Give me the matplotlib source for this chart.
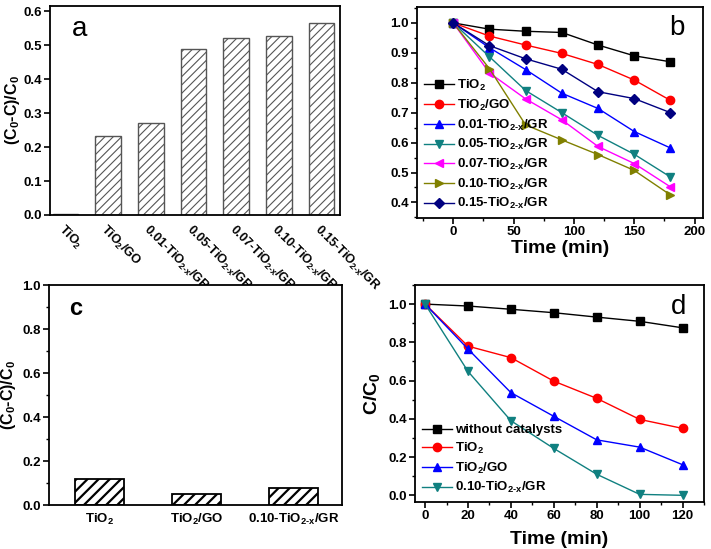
import numpy as np
import matplotlib
matplotlib.use("Agg")
import matplotlib.pyplot as plt
from matplotlib.ticker import MultipleLocator

plt.rcParams['font.family'] = ['Liberation Sans', 'DejaVu Sans']
plt.rcParams['font.weight'] = 'bold'
plt.rcParams['axes.labelweight'] = 'bold'
plt.rcParams['mathtext.fontset'] = 'custom'
plt.rcParams['mathtext.rm'] = 'Liberation Sans:bold'
plt.rcParams['mathtext.it'] = 'Liberation Sans:bold'
plt.rcParams['mathtext.bf'] = 'Liberation Sans:bold'
plt.rcParams['mathtext.default'] = 'rm'
plt.rcParams['axes.linewidth'] = 1.3

SUB = r'$_{2\text{-}x}$'

# panel a data
a_labels = ['TiO$_2$', 'TiO$_2$/GO', '0.01-TiO' + SUB + '/GR', '0.05-TiO' + SUB + '/GR',
            '0.07-TiO' + SUB + '/GR', '0.10-TiO' + SUB + '/GR', '0.15-TiO' + SUB + '/GR']
a_values = [0.003, 0.232, 0.272, 0.488, 0.520, 0.526, 0.564]

# panel b data
b_time = [0, 30, 60, 90, 120, 150, 180]
b_tio2 = [1.0, 0.979, 0.972, 0.968, 0.926, 0.890, 0.870]
b_tio2_go = [1.0, 0.956, 0.926, 0.898, 0.861, 0.809, 0.741]
b_001 = [1.0, 0.917, 0.844, 0.765, 0.714, 0.637, 0.582]
b_005 = [1.0, 0.887, 0.774, 0.700, 0.624, 0.561, 0.485]
b_007 = [1.0, 0.833, 0.746, 0.676, 0.587, 0.530, 0.452]
b_010 = [1.0, 0.847, 0.659, 0.609, 0.560, 0.507, 0.425]
b_015 = [1.0, 0.924, 0.880, 0.845, 0.770, 0.747, 0.700]
b_names = ['TiO$_2$', 'TiO$_2$/GO', '0.01-TiO' + SUB + '/GR', '0.05-TiO' + SUB + '/GR',
           '0.07-TiO' + SUB + '/GR', '0.10-TiO' + SUB + '/GR', '0.15-TiO' + SUB + '/GR']

# panel c data
c_labels = ['TiO$_2$', 'TiO$_2$/GO', '0.10-TiO' + SUB + '/GR']
c_values = [0.120, 0.048, 0.077]

# panel d data
d_time = [0, 20, 40, 60, 80, 100, 120]
d_none = [1.0, 0.990, 0.973, 0.955, 0.932, 0.910, 0.876]
d_tio2 = [1.0, 0.780, 0.720, 0.597, 0.507, 0.397, 0.350]
d_tio2_go = [1.0, 0.765, 0.537, 0.413, 0.290, 0.252, 0.160]
d_010 = [1.0, 0.648, 0.390, 0.245, 0.110, 0.005, 0.0]
d_names = ['without catalysts', 'TiO$_2$', 'TiO$_2$/GO', '0.10-TiO' + SUB + '/GR']

fig = plt.figure(figsize=(7.11, 5.49), dpi=100)
ax_a = fig.add_axes([0.0703, 0.6084, 0.4079, 0.3807])
ax_b = fig.add_axes([0.5865, 0.6029, 0.4023, 0.3843])
ax_c = fig.add_axes([0.0689, 0.0801, 0.4121, 0.4007])
ax_d = fig.add_axes([0.5837, 0.0856, 0.4065, 0.3953])

for ax in (ax_a, ax_b, ax_c, ax_d):
    ax.tick_params(labelsize=9.5, width=1.2, length=4, pad=2)
    ax.tick_params(which='minor', width=1.0, length=2.5)

# ---- a ----
plt.rcParams['hatch.linewidth'] = 0.8
plt.rcParams['hatch.color'] = '#444444'
xa = np.arange(len(a_values))
ax_a.bar(xa, a_values, width=0.6, color='white', edgecolor='#555555',
         linewidth=1.0, hatch='////')
ax_a.set_xlim(-0.36, 6.43)
ax_a.set_ylim(0, 0.615)
ax_a.yaxis.set_major_locator(MultipleLocator(0.1))
ax_a.set_xticks(xa)
ax_a.set_xticklabels(a_labels, rotation=-45, ha='left', rotation_mode='anchor', fontsize=9)
ax_a.tick_params(axis='x', length=0, pad=5)
ax_a.set_ylabel('(C$_0$-C)/C$_0$', fontsize=11.5, labelpad=1)
ax_a.text(0.075, 0.89, 'a', transform=ax_a.transAxes, fontsize=20,
          fontweight='normal', va='center')

# ---- b ----
b_series = [b_tio2, b_tio2_go, b_001, b_005, b_007, b_010, b_015]
b_colors = ['black', 'red', 'blue', '#108080', '#ff00ff', '#808000', '#000080']
b_markers = ['s', 'o', '^', 'v', '<', '>', 'D']
for ys, col, mk, nm in zip(b_series, b_colors, b_markers, b_names):
    ax_b.plot(b_time, ys, color=col, marker=mk, markersize=6 if mk != 'D' else 5,
              linewidth=1.0, label=nm)
ax_b.set_xlim(-30, 207)
ax_b.set_ylim(0.348, 1.053)
ax_b.xaxis.set_major_locator(MultipleLocator(50))
ax_b.xaxis.set_minor_locator(MultipleLocator(25))
ax_b.yaxis.set_major_locator(MultipleLocator(0.1))
ax_b.yaxis.set_minor_locator(MultipleLocator(0.05))
ax_b.yaxis.set_major_formatter(plt.FormatStrFormatter('%.1f'))
ax_b.set_xlabel('Time (min)', fontsize=14, labelpad=1)
ax_b.legend(loc='lower left', frameon=False, fontsize=9.5, handlelength=2.3,
            handletextpad=0.2, labelspacing=0.35, borderaxespad=0.1,
            bbox_to_anchor=(0.0, 0.0))
ax_b.text(0.88, 0.9, 'b', transform=ax_b.transAxes, fontsize=20,
          fontweight='normal', va='center')

# ---- c ----
xc = np.arange(len(c_values))
bars_c = ax_c.bar(xc, c_values, width=0.5, color='white', edgecolor='black',
                  linewidth=1.3, hatch='///')
for p in bars_c:
    if hasattr(p, 'set_hatch_linewidth'):
        p.set_hatch_linewidth(1.6)
    p._hatch_color = (0, 0, 0, 1)
ax_c.set_xlim(-0.52, 2.5)
ax_c.set_ylim(0, 1.0)
ax_c.yaxis.set_major_locator(MultipleLocator(0.2))
ax_c.yaxis.set_minor_locator(MultipleLocator(0.1))
ax_c.set_xticks(xc)
ax_c.set_xticklabels(c_labels, fontsize=9.5)
ax_c.tick_params(axis='x', length=0, pad=5)
ax_c.set_ylabel('(C$_0$-C)/C$_0$', fontsize=11.5, labelpad=3)
ax_c.text(0.068, 0.895, 'c', transform=ax_c.transAxes, fontsize=17,
          fontweight='bold', va='center')

# ---- d ----
d_series = [d_none, d_tio2, d_tio2_go, d_010]
d_colors = ['black', 'red', 'blue', '#108080']
d_markers = ['s', 'o', '^', 'v']
for ys, col, mk, nm in zip(d_series, d_colors, d_markers, d_names):
    ax_d.plot(d_time, ys, color=col, marker=mk, markersize=6, linewidth=1.0, label=nm)
ax_d.set_xlim(-4.7, 130)
ax_d.set_ylim(-0.035, 1.1)
ax_d.xaxis.set_major_locator(MultipleLocator(20))
ax_d.xaxis.set_minor_locator(MultipleLocator(10))
ax_d.yaxis.set_major_locator(MultipleLocator(0.2))
ax_d.yaxis.set_minor_locator(MultipleLocator(0.1))
ax_d.set_xlabel('Time (min)', fontsize=14, labelpad=6)
ax_d.set_ylabel('C/C$_0$', fontsize=14, labelpad=4)
ax_d.legend(loc='lower left', frameon=False, fontsize=9.5, handlelength=2.3,
            handletextpad=0.2, labelspacing=0.35, borderaxespad=0.1)
ax_d.text(0.885, 0.9, 'd', transform=ax_d.transAxes, fontsize=20,
          fontweight='normal', va='center')

# make sure numeric tick labels are bold
for ax in (ax_a, ax_b, ax_c, ax_d):
    for lbl in ax.get_xticklabels() + ax.get_yticklabels():
        lbl.set_fontweight('bold')

fig.savefig('out.png', dpi=100)
